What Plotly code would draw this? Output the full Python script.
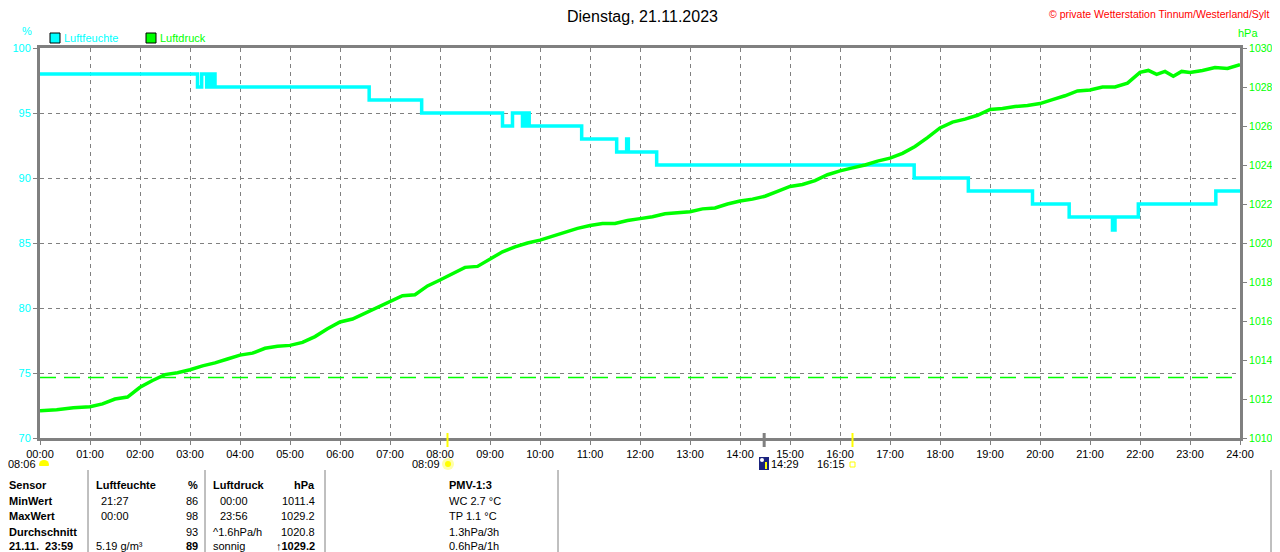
import plotly.graph_objects as go

# Humidity (step line, %)
hum_times = ["00:00", "03:09", "03:14", "03:20", "03:23", "03:26", "03:28", "03:30",
             "06:35", "07:38", "09:15", "09:27", "09:39", "09:41", "09:43", "09:45", "09:47",
             "10:50", "11:32", "11:44", "11:46", "12:20", "17:29", "18:34", "19:51",
             "20:35", "21:27", "21:30", "21:58", "23:31", "24:00"]
hum_values = [98, 97, 98, 97, 98, 97, 98, 97,
              96, 95, 94, 95, 94, 95, 94, 95, 94,
              93, 92, 93, 92, 91, 90, 89, 88,
              87, 86, 87, 88, 89, 89]

# Pressure (hPa)
press_times = ["00:00", "00:20", "00:40", "01:00", "01:15", "01:30", "01:45", "02:00", "02:15",
               "02:30", "02:45", "03:00", "03:15", "03:30", "03:45", "04:00", "04:15", "04:30",
               "04:45", "05:00", "05:15", "05:30", "05:45", "06:00", "06:15", "06:30", "06:45",
               "07:00", "07:15", "07:30", "07:45", "08:00", "08:15", "08:30", "08:45", "09:00",
               "09:15", "09:30", "09:45", "10:00", "10:15", "10:30", "10:45", "11:00", "11:15",
               "11:30", "11:45", "12:00", "12:15", "12:30", "12:45", "13:00", "13:15", "13:30",
               "13:45", "14:00", "14:15", "14:30", "14:45", "15:00", "15:15", "15:30", "15:45",
               "16:00", "16:15", "16:30", "16:45", "17:00", "17:15", "17:30", "17:45", "18:00",
               "18:15", "18:30", "18:45", "19:00", "19:15", "19:30", "19:45", "20:00", "20:15",
               "20:30", "20:45", "21:00", "21:15", "21:30", "21:45", "22:00", "22:10", "22:20",
               "22:30", "22:40", "22:50", "23:00", "23:15", "23:30", "23:45", "24:00"]
press_values = [1011.4, 1011.45, 1011.55, 1011.6, 1011.75, 1012.0, 1012.1, 1012.6, 1012.95,
                1013.25, 1013.35, 1013.5, 1013.7, 1013.85, 1014.05, 1014.25, 1014.35, 1014.6,
                1014.7, 1014.75, 1014.9, 1015.2, 1015.6, 1015.95, 1016.1, 1016.4, 1016.7,
                1017.0, 1017.3, 1017.35, 1017.8, 1018.1, 1018.45, 1018.75, 1018.8, 1019.2,
                1019.55, 1019.8, 1020.0, 1020.15, 1020.35, 1020.55, 1020.75, 1020.9, 1021.0,
                1021.0, 1021.15, 1021.25, 1021.35, 1021.5, 1021.55, 1021.6, 1021.75, 1021.8,
                1022.0, 1022.15, 1022.25, 1022.4, 1022.65, 1022.9, 1023.0, 1023.2, 1023.5,
                1023.7, 1023.85, 1024.0, 1024.2, 1024.35, 1024.6, 1024.95, 1025.4, 1025.9,
                1026.2, 1026.35, 1026.55, 1026.85, 1026.9, 1027.0, 1027.05, 1027.15, 1027.35,
                1027.55, 1027.8, 1027.85, 1028.0, 1028.0, 1028.2, 1028.75, 1028.85, 1028.65,
                1028.8, 1028.55, 1028.8, 1028.75, 1028.85, 1029.0, 1028.95, 1029.15]

normal_pressure = 1013.1

x_tick_labels = ["%02d:00" % h for h in range(25)]

# Sun / moon events
sunrise = "08:09"
sunset = "16:15"
moonrise = "14:29"
sunrise_prev = "08:06"

# Table at the bottom
row_labels = ["Sensor", "MinWert", "MaxWert", "Durchschnitt", "21.11.  23:59"]
hum_time_col = ["Luftfeuchte", "21:27", "00:00", "", "5.19 g/m³"]
hum_value_col = ["%", "86", "98", "93", "89"]
press_time_col = ["Luftdruck", "00:00", "23:56", "^1.6hPa/h", "sonnig"]
press_value_col = ["hPa", "1011.4", "1029.2", "1020.8", "↑1029.2"]
pmv_col = ["PMV-1:3", "WC 2.7 °C", "TP 1.1 °C", "1.3hPa/3h", "0.6hPa/1h"]


def hours(t):
    h, m = t.split(":")
    return int(h) + int(m) / 60.0


# screen pixel -> paper helpers (plot area on screen is 40..1240 x 48..438,
# the page adds an 8px body margin, so the figure itself starts at 8,8)
def px(x):
    return (x - 40) / 1200.0


def py(y):
    return (438 - y) / 390.0


CYAN = "#00FFFF"
GREEN = "#00FF00"
GRAY = "#808080"
FONT = "Liberation Sans, Arial, sans-serif"

fig = go.Figure()

fig.add_trace(go.Scatter(
    x=[hours(t) for t in hum_times], y=hum_values,
    mode="lines", line=dict(color=CYAN, width=3.5, shape="hv"),
    name="Luftfeuchte", hoverinfo="skip"
))

fig.add_trace(go.Scatter(
    x=[hours(t) for t in press_times], y=press_values, yaxis="y2",
    mode="lines", line=dict(color=GREEN, width=3.5),
    name="Luftdruck", hoverinfo="skip"
))

fig.add_trace(go.Scatter(
    x=[0, 24], y=[normal_pressure, normal_pressure], yaxis="y2",
    mode="lines", line=dict(color=GREEN, width=1.5, dash="16px,8px"),
    hoverinfo="skip"
))

axis_common = dict(
    showline=True, linecolor=GRAY, linewidth=3,
    ticks="outside", ticklen=4, tickcolor=GRAY, tickwidth=1,
    zeroline=False, automargin=False,
)

fig.update_layout(
    width=1264, height=544,
    margin=dict(l=32, r=32, t=40, b=114),
    paper_bgcolor="white", plot_bgcolor="white",
    showlegend=False,
    font=dict(family=FONT, size=11, color="black"),
    xaxis=dict(
        range=[0, 24], tickvals=list(range(25)), ticktext=x_tick_labels,
        showgrid=True, gridcolor=GRAY, griddash="4px,4px", gridwidth=1,
        mirror=True, tickfont=dict(size=11, color="black"),
        **axis_common
    ),
    yaxis=dict(
        range=[70, 100], dtick=5,
        showgrid=True, gridcolor=GRAY, griddash="4px,4px", gridwidth=1,
        tickfont=dict(size=11, color=CYAN),
        **axis_common
    ),
    yaxis2=dict(
        range=[1010, 1030], dtick=2, overlaying="y", side="right",
        showgrid=False, tickformat="d",
        tickfont=dict(size=10.5, color=GREEN),
        **axis_common
    ),
)

shapes = []
annotations = []


def text(x, y, s, color="black", size=11, anchor="left", bold=False):
    annotations.append(dict(
        x=px(x), y=py(y), xref="paper", yref="paper", text="<b>%s</b>" % s if bold else s,
        showarrow=False, xanchor=anchor, yanchor="middle",
        font=dict(family=FONT, size=size, color=color), borderpad=0
    ))


# Title, copyright, units
text(642, 16, "Dienstag, 21.11.2023", size=16, anchor="center")
text(1270, 14, "© private Wetterstation Tinnum/Westerland/Sylt", color="red", size=10.5, anchor="right")
text(27, 31, "%", color=CYAN, anchor="center")
text(1248, 33, "hPa", color=GREEN, anchor="center")

# Legend
for x0, color, label in [(50, CYAN, "Luftfeuchte"), (146, GREEN, "Luftdruck")]:
    shapes.append(dict(type="rect", xref="paper", yref="paper",
                       x0=px(x0), x1=px(x0 + 10), y0=py(43), y1=py(33),
                       fillcolor=color, line=dict(color="black", width=1)))
    text(x0 + 13, 38, label, color=color)

# Sun / moon ticks on the time axis
for t, color, w in [(sunrise, "#FFFF00", 2), (moonrise, GRAY, 3), (sunset, "#FFFF00", 2)]:
    shapes.append(dict(type="line", xref="x", yref="paper",
                       x0=hours(t), x1=hours(t), y0=py(447), y1=py(433),
                       line=dict(color=color, width=w)))

# Sun / moon labels below the axis
text(37, 464, sunrise_prev, anchor="right")
shapes.append(dict(type="circle", xref="paper", yref="paper",
                   x0=px(39), x1=px(49), y0=py(469), y1=py(460),
                   fillcolor="#FFFF00", line=dict(width=0)))
shapes.append(dict(type="rect", xref="paper", yref="paper",
                   x0=px(37), x1=px(51), y0=py(470), y1=py(466),
                   fillcolor="white", line=dict(width=0)))

text(441, 464, sunrise, anchor="right")
shapes.append(dict(type="circle", xref="paper", yref="paper",
                   x0=px(442), x1=px(454), y0=py(470), y1=py(458),
                   fillcolor="#FFFFAA", line=dict(width=0)))
shapes.append(dict(type="circle", xref="paper", yref="paper",
                   x0=px(445), x1=px(451), y0=py(467), y1=py(461),
                   fillcolor="#FFFF00", line=dict(width=0)))

shapes.append(dict(type="rect", xref="paper", yref="paper",
                   x0=px(759), x1=px(769), y0=py(470), y1=py(457),
                   fillcolor="#1A237E", line=dict(width=0)))
shapes.append(dict(type="circle", xref="paper", yref="paper",
                   x0=px(760), x1=px(764), y0=py(462), y1=py(458),
                   fillcolor="white", line=dict(width=0)))
shapes.append(dict(type="line", xref="paper", yref="paper",
                   x0=px(766), x1=px(766), y0=py(469), y1=py(462),
                   line=dict(color="#FFFF00", width=2)))
text(770, 464, moonrise)

text(846, 464, sunset, anchor="right")
shapes.append(dict(type="rect", xref="paper", yref="paper",
                   x0=px(850), x1=px(855), y0=py(467), y1=py(462),
                   line=dict(color="#FFFF00", width=1)))

# Table separators
for x in [88, 205, 325, 558, 1271]:
    shapes.append(dict(type="line", xref="paper", yref="paper",
                       x0=px(x), x1=px(x), y0=py(552), y1=py(470),
                       line=dict(color=GRAY, width=1)))

# Table rows
row_y = [485, 500.5, 516, 531.5, 546]
for i, y in enumerate(row_y):
    header = i == 0
    last = i == len(row_y) - 1
    text(8, y, row_labels[i], bold=True)
    text(100 if hum_time_col[i][:1].isdigit() and not last else 95, y, hum_time_col[i], bold=header)
    text(199, y, hum_value_col[i], anchor="right", bold=header or last)
    text(219 if press_time_col[i][:1].isdigit() else 212, y, press_time_col[i], bold=header)
    text(316, y, press_value_col[i], anchor="right", bold=header or last)
    text(448, y, pmv_col[i], bold=header)

fig.update_layout(shapes=shapes, annotations=annotations)

fig.write_html("out.html")
